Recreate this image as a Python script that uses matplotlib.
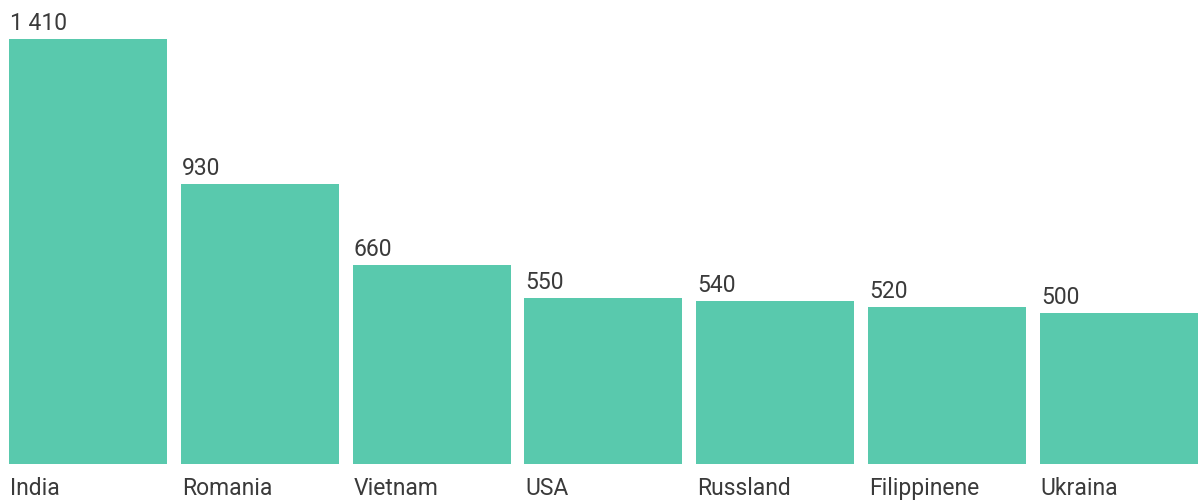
import matplotlib
matplotlib.use("Agg")
import matplotlib.pyplot as plt

countries = ["India", "Romania", "Vietnam", "USA", "Russland", "Filippinene", "Ukraina"]
values = [1410, 930, 660, 550, 540, 520, 500]
value_labels = ["1 410", "930", "660", "550", "540", "520", "500"]

bar_color = "#59c9ad"
text_color = "#3a3a3a"

plt.rcParams["font.family"] = ["Roboto", "DejaVu Sans"]

fig = plt.figure(figsize=(12.01, 5.0), dpi=100)
ax = fig.add_axes([0, 0, 1, 1])

step = 171.8
width = 158 / step
x = list(range(len(countries)))
ax.bar(x, values, width=width, align="edge", color=bar_color)

ax.set_xlim(-9 / step, (1201 - 9) / step)
scale = 1410 / 425
ax.set_ylim(-36 * scale, 464 * scale)

for xi, v, lab, c in zip(x, values, value_labels, countries):
    ax.annotate(lab, (xi, v), xytext=(1, 9), textcoords="offset pixels",
                ha="left", va="baseline", fontsize=16.5, color=text_color)
    ax.annotate(c, (xi, 0), xytext=(1, -31), textcoords="offset pixels",
                ha="left", va="baseline", fontsize=16.5, color=text_color)

ax.axis("off")
fig.savefig("out.png", dpi=100)
